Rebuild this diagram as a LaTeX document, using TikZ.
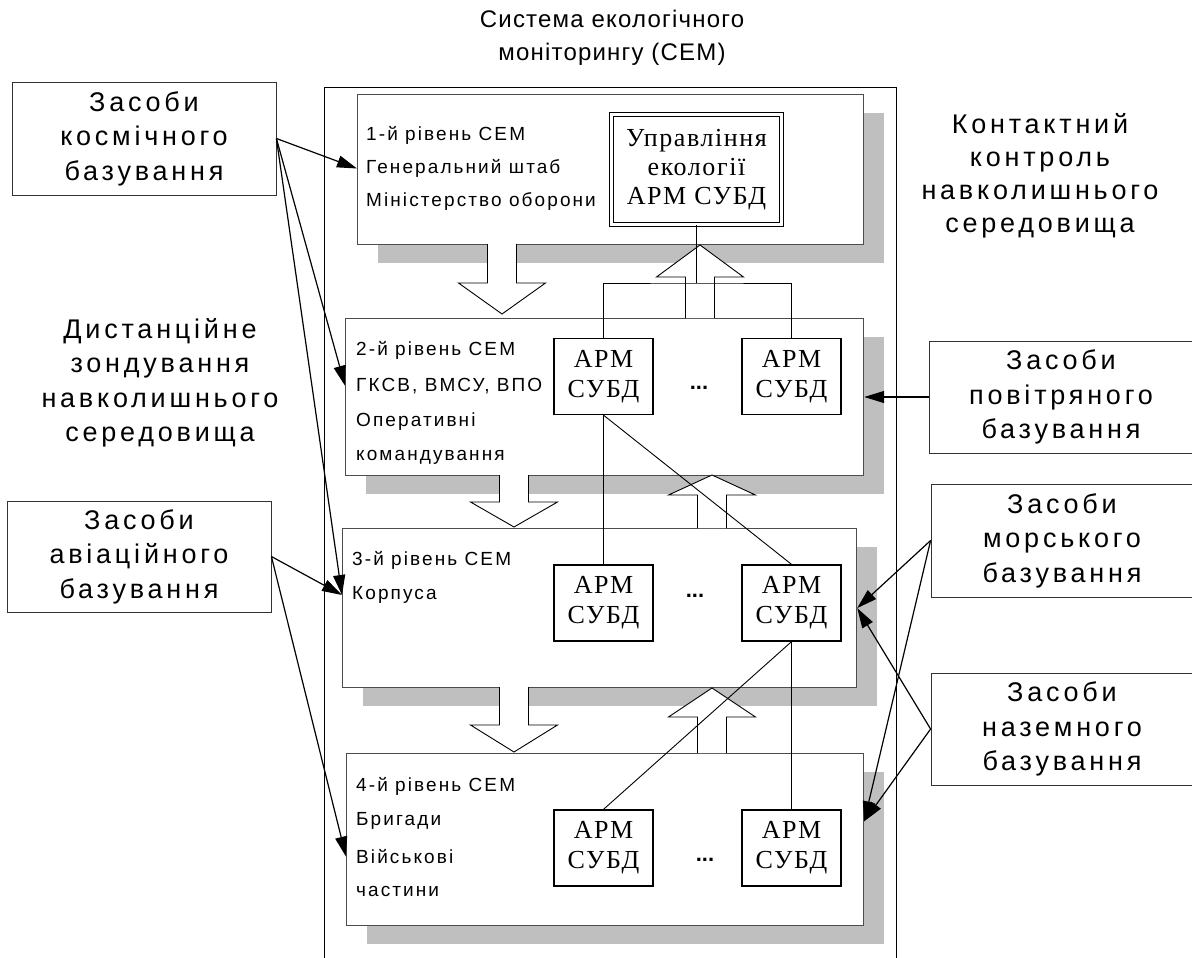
\documentclass[tikz,border=0pt]{standalone}
\usepackage{fontspec}
\setmainfont{Liberation Serif}
\newfontfamily\bigsf[LetterSpace=14]{Liberation Sans}
\newfontfamily\titlesf[LetterSpace=5]{Liberation Sans}
\newfontfamily\lvlsf[LetterSpace=11]{Liberation Sans}
\newfontfamily\dotsf{Liberation Sans}
\newfontfamily\armrm[LetterSpace=6]{Liberation Serif}
\usetikzlibrary{arrows.meta,shadows,calc,positioning}

\tikzset{
  level/.style={draw=black!70, line width=1.2pt, fill=white, anchor=north west, inner sep=0pt,
    drop shadow={shadow xshift=20pt, shadow yshift=-18pt, fill=black!25, opacity=1}},
  srcbox/.style={draw=black!80, line width=0.8pt, fill=white, align=center, inner sep=0pt,
    font=\bigsf\fontsize{27}{34.5}\selectfont},
  bigtext/.style={align=center, inner sep=0pt, font=\bigsf\fontsize{27}{#1}\selectfont},
  bigtext/.default=34.5,
  lvltext/.style={anchor=west, inner sep=0pt, font=\lvlsf\fontsize{19}{22}\selectfont},
  arm/.style={draw, line width=1.3pt, fill=white, minimum width=99pt, minimum height=76pt,
    align=center, inner sep=0pt, font=\armrm\fontsize{26}{30}\selectfont},
  upr/.style={draw, double, double distance=2.5pt, line width=1.2pt, fill=white,
    minimum width=170pt, minimum height=110pt, align=center, inner sep=0pt,
    font=\armrm\fontsize{26}{29}\selectfont},
  dots/.style={inner sep=0pt, font=\dotsf\bfseries\fontsize{22}{22}\selectfont},
  hollow/.style={draw, fill=white, line width=0.9pt},
  link/.style={line width=0.9pt},
  feed/.style={line width=1.2pt, -{Triangle[length=20pt,width=12pt]}}
}

\begin{document}
\begin{tikzpicture}[x=1pt,y=-1pt]
\useasboundingbox (0,0) rectangle (1192,958);

% outer frame
\draw[line width=1pt] (324,965) |- (896,88) -- (896,965);
\node[align=center, inner sep=0pt, font=\titlesf\fontsize{24}{33}\selectfont] (title) at (612,38)
  {Система екологічного\\моніторингу (СЕМ)};

% levels
\node[level, minimum width=506pt, minimum height=150pt] (lev1) at (357,94) {};
\node[level, minimum width=518pt, minimum height=157pt] (lev2) at (345,318) {};
\node[level, minimum width=514pt, minimum height=159pt] (lev3) at (342,528) {};
\node[level, minimum width=517pt, minimum height=172pt] (lev4) at (346,753) {};

% hollow arrows between levels
\foreach \x/\t/\b/\p in {502/244/283/314, 514/475/502/527, 514/687/725/752,
                         700/318/277/245, 712/528/495/475, 712/753/717/688}
  \draw[hollow] (\x-14.5,\t) -- (\x-14.5,\b) -- (\x-43.5,\b) -- (\x,\p)
                -- (\x+43.5,\b) -- (\x+14.5,\b) -- (\x+14.5,\t);

% level texts
\foreach \txt [count=\i] in {1-й рівень СЕМ, Генеральний штаб, Міністерство оборони}
  \node[lvltext] (l1t\i) at (366,{135+33.5*(\i-1)}) {\txt};
\foreach \txt [count=\i] in {2-й рівень СЕМ, {ГКСВ, ВМСУ, ВПО}, Оперативні, командування}
  \node[lvltext] (l2t\i) at (356,{350+35.7*(\i-1)}) {\txt};
\foreach \txt [count=\i] in {3-й рівень СЕМ, Корпуса}
  \node[lvltext] (l3t\i) at (352,{560+35*(\i-1)}) {\txt};
\foreach \txt [count=\i] in {4-й рівень СЕМ, Бригади, Військові, частини}
  \node[lvltext] (l4t\i) at (356,{786+35.3*(\i-1)}) {\txt};

% workstations
\node[upr] (upr) at (696.5,169.5) {Управління\\екології\\АРМ СУБД};
\node[arm] (a21) at (603.5,376.5) {АРМ\\СУБД};
\node[arm] (a22) at (791.5,376.5) {АРМ\\СУБД};
\node[arm] (a31) at (603.5,603) {АРМ\\СУБД};
\node[arm] (a32) at (791.5,603) {АРМ\\СУБД};
\node[arm] (a41) at (603.5,848) {АРМ\\СУБД};
\node[arm] (a42) at (791.5,848) {АРМ\\СУБД};
\node[dots] (dt2) at (699,388) {...};
\node[dots] (dt3) at (695,596) {...};
\node[dots] (dt4) at (705,860) {...};

\coordinate (jn) at (696.5,283);
\draw[link] (upr.south) -- (jn);
\draw[link] (a21.north) |- (jn) -| (a22.north);
\draw[link] (a21.south) -- (a31.north);
\draw[link] (a21.south) -- (a32.north);
\draw[link] (a32.south) -- (a42.north);
\draw[link] (a32.south) -- (a41.north);

% side texts and sources
\node[bigtext] (dist) at (160,383) {Дистанційне\\зондування\\навколишнього\\середовища};
\node[bigtext=33] (kont) at (1040,176) {Контактний\\контроль\\навколишнього\\середовища};
\node[srcbox, minimum width=264pt, minimum height=113pt] (kosm) at (144,138.5) {Засоби\\космічного\\базування};
\node[srcbox, minimum width=264pt, minimum height=111pt] (avia) at (139,556.5) {Засоби\\авіаційного\\базування};
\node[srcbox, minimum width=264pt, minimum height=112pt] (povit) at (1061,397) {Засоби\\повітряного\\базування};
\node[srcbox, minimum width=262pt, minimum height=113pt] (morsk) at (1062,540.5) {Засоби\\морського\\базування};
\node[srcbox, minimum width=262pt, minimum height=112pt] (nazem) at (1062,729) {Засоби\\наземного\\базування};

\draw[feed] (kosm.east) -- (lev1.west |- l1t2);
\draw[feed] (kosm.east) -- (lev2.west |- l2t2);
\draw[feed] (kosm.east) -- (lev3.west |- l3t2);
\draw[feed] (avia.east) -- (lev3.west |- l3t2);
\draw[feed] (avia.east) -- (lev4.west |- l4t3);
\draw[feed] (povit.west) -- (lev2.east |- povit.west);
\draw[feed] (morsk.west) -- (lev3.east);
\draw[feed] (morsk.west) -- (lev4.east |- l4t2);
\draw[feed] (nazem.west) -- (lev3.east);
\draw[feed] (nazem.west) -- (lev4.east |- l4t2);
\end{tikzpicture}
\end{document}
